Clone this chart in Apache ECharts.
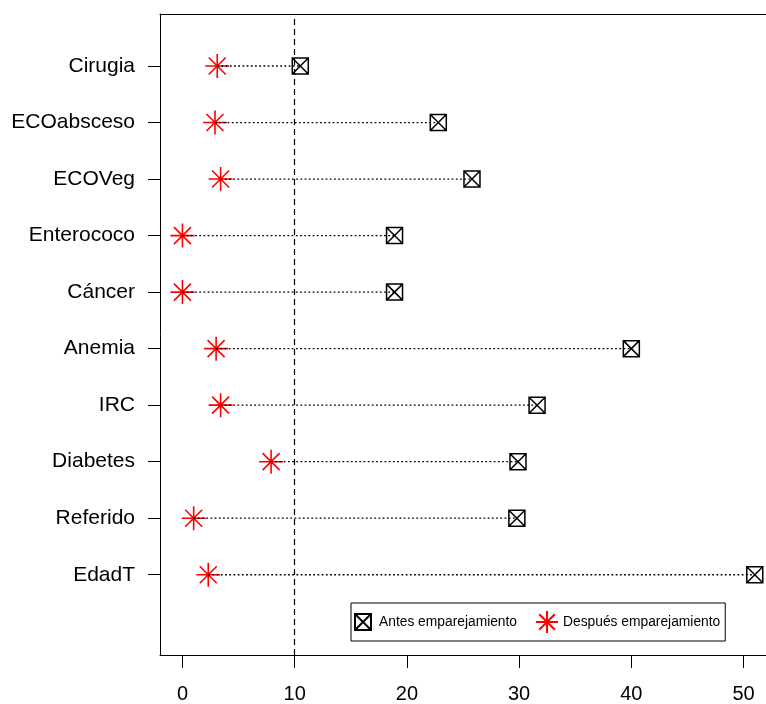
<!DOCTYPE html>
<html>
<head>
<meta charset="utf-8">
<script src="https://cdn.jsdelivr.net/npm/echarts@6/dist/echarts.min.js"></script>
<style>html,body{margin:0;padding:0;background:#fff;}#c{width:766px;height:704px;}</style>
</head>
<body>
<div id="c"></div>
<script>
// Categories listed top to bottom
const categories = ['Cirugia','ECOabsceso','ECOVeg','Enterococo','Cáncer','Anemia','IRC','Diabetes','Referido','EdadT'];
const antes = [10.5, 22.8, 25.8, 18.9, 18.9, 40.0, 31.6, 29.9, 29.8, 51.0];
const despues = [3.1, 2.9, 3.4, 0.0, 0.0, 3.0, 3.4, 7.9, 1.0, 2.3];
const xTicks = [0, 10, 20, 30, 40, 50];
const refLine = 10;
const seriesNames = ['Antes emparejamiento', 'Después emparejamiento'];

const n = categories.length;
const yPos = categories.map((c, i) => n - i);
const yTicks = yPos.slice();

const FONT = "'Liberation Sans', Arial, sans-serif";
const squarePath = 'path://M0,0L16,0L16,16L0,16Z M0,0L16,16 M16,0L0,16';
const starPath = 'path://M12,0L12,24 M0,12L24,12 M3.5,3.5L20.5,20.5 M20.5,3.5L3.5,20.5';
const squareLegend = 'path://M0,0 M22,22 M3,3L19,3L19,19L3,19Z M3,3L19,19 M19,3L3,19';

const X_MIN = -2, X_MAX = 52;
const chart = echarts.init(document.getElementById('c'), null, {renderer: 'canvas'});
chart.setOption({
  animation: false,
  backgroundColor: '#fff',
  grid: {left: 160, top: 14, bottom: 48, right: 0, show: false},
  xAxis: [{
    type: 'value', min: X_MIN, max: X_MAX, position: 'bottom',
    axisLine: {show: true, onZero: false, lineStyle: {color: '#000', width: 1}},
    splitLine: {show: false},
    axisTick: {show: true, customValues: xTicks, length: 13, lineStyle: {color: '#000', width: 1}},
    axisLabel: {customValues: xTicks, color: '#000', fontSize: 20, fontFamily: FONT, margin: 29}
  }, {
    type: 'value', min: X_MIN, max: X_MAX, position: 'top',
    axisLine: {show: true, onZero: false, lineStyle: {color: '#000', width: 1}},
    splitLine: {show: false}, axisTick: {show: false}, axisLabel: {show: false}
  }],
  yAxis: {
    type: 'value', min: -0.42, max: 10.92,
    axisLine: {show: true, onZero: false, lineStyle: {color: '#000', width: 1}},
    splitLine: {show: false},
    axisTick: {show: true, customValues: yTicks, length: 12, lineStyle: {color: '#000', width: 1}},
    axisLabel: {customValues: yTicks, color: '#000', fontSize: 21, fontFamily: FONT, margin: 25,
      formatter: v => categories[n - Math.round(v)]}
  },
  legend: {
    left: 351, top: 603, orient: 'horizontal',
    padding: [7, 5, 7, 0], itemGap: 18, itemWidth: 22, itemHeight: 22,
    borderColor: '#000', borderWidth: 1, backgroundColor: '#fff',
    textStyle: {color: '#000', fontSize: 13.8, fontFamily: FONT},
    data: [
      {name: seriesNames[0], icon: squareLegend},
      {name: seriesNames[1], icon: starPath}
    ]
  },
  series: [
    {
      type: 'custom', name: 'lines', z: 5, silent: true,
      data: categories.map((c, i) => [despues[i], antes[i], yPos[i]]),
      renderItem: (params, api) => {
        const p1 = api.coord([api.value(0), api.value(2)]);
        const p2 = api.coord([api.value(1), api.value(2)]);
        return {type: 'line', shape: {x1: p1[0], y1: p1[1], x2: p2[0], y2: p2[1]},
          style: {stroke: '#000', lineWidth: 1.3, lineDash: [1.8, 2.4]}};
      },
      markLine: {
        silent: true, symbol: 'none', label: {show: false},
        lineStyle: {color: '#000', type: [6, 4], width: 1.2},
        data: [{xAxis: refLine}]
      }
    },
    {
      type: 'scatter', name: seriesNames[0], z: 3,
      symbol: squarePath, symbolSize: 16,
      itemStyle: {color: 'rgba(0,0,0,0)', borderColor: '#000', borderWidth: 1.5, opacity: 1},
      data: categories.map((c, i) => [antes[i], yPos[i]])
    },
    {
      type: 'scatter', name: seriesNames[1], z: 3,
      symbol: starPath, symbolSize: 24,
      itemStyle: {color: 'rgba(0,0,0,0)', borderColor: '#ff0000', borderWidth: 1.6, opacity: 1},
      data: categories.map((c, i) => [despues[i], yPos[i]])
    }
  ]
});
</script>
</body>
</html>
